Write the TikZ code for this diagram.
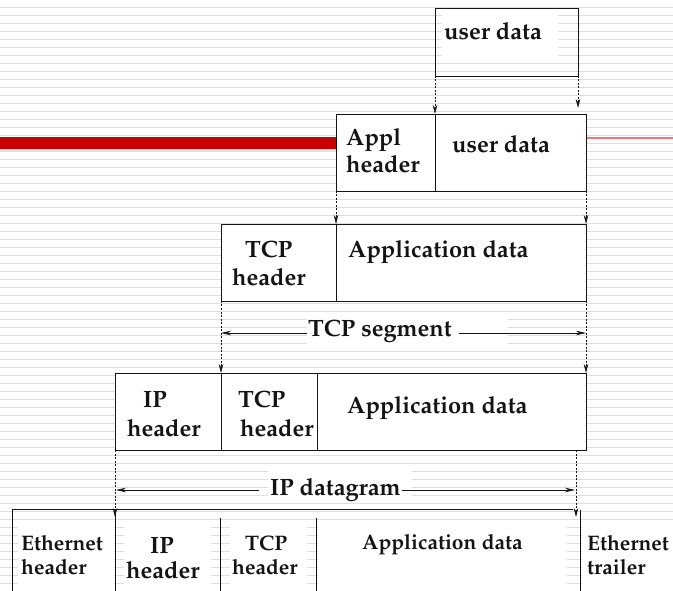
\documentclass[tikz,border=0pt]{standalone}
\usepackage[T1]{fontenc}
\renewcommand{\rmdefault}{ppl}
\usetikzlibrary{arrows.meta}
\definecolor{stripe}{RGB}{222,222,222}
\definecolor{barred}{RGB}{204,0,0}
\definecolor{thinred}{RGB}{232,122,122}
\definecolor{ink}{RGB}{20,20,20}
\begin{document}
\begin{tikzpicture}[x=1pt,y=-1pt,
  cell/.style={draw=ink, line width=0.9pt, fill=white, inner sep=0pt, outer sep=0pt, anchor=north west},
  opencell/.style={draw=ink, line width=0.9pt, inner sep=0pt, outer sep=0pt, anchor=north west},
  bigtxt/.style={font=\fontsize{23.6}{28}\selectfont\bfseries, inner sep=0pt, anchor=base west, text=ink},
  smalltxt/.style={font=\fontsize{21}{25}\selectfont\bfseries, inner sep=0pt, anchor=base west, text=ink},
  drop/.style={draw=ink, dash pattern=on 2pt off 1.5pt, line width=0.6pt, -{Stealth[length=9pt,width=4.5pt]}},
  span/.style={draw=ink, line width=0.7pt, -{Stealth[length=10pt,width=4.5pt]}},
  wall/.style={draw=ink, line width=0.9pt},
  textbg/.style={fill=white}]
\useasboundingbox (0,0) rectangle (673,591);
% background with stripes
\fill[white] (0,0) rectangle (673,591);
\foreach \k in {0,...,74} \draw[stripe, line width=1.5pt] (0,8*\k-0.5) -- (673,8*\k-0.5);
% red title bar
\fill[barred] (0,137.3) rectangle (337,149.3);
\draw[thinred, line width=1.6pt] (586,137.8) -- (673,137.8);
% white text backgrounds
\fill[textbg] (442,15) rectangle (558,63);
\fill[textbg] (307,312) rectangle (508,350);
\fill[textbg] (268,466) rectangle (412,498);
\fill[textbg] (18,527) rectangle (114,591);
\fill[textbg] (124,527) rectangle (211,591);
\fill[textbg] (230,527) rectangle (307,591);
\fill[textbg] (318,527) rectangle (567,591);
\fill[textbg] (582,527) rectangle (673,591);
% row 0
\node[opencell, minimum width=143pt, minimum height=68pt] (u0) at (435,8) {};
% row 1
\node[cell, minimum width=99pt, minimum height=77pt] (a1) at (336,114) {};
\node[cell, minimum width=151pt, minimum height=77pt] (u1) at (435,114) {};
% row 2
\node[cell, minimum width=115pt, minimum height=77pt] (th2) at (221,224) {};
\node[cell, minimum width=250pt, minimum height=77pt] (ad2) at (336,224) {};
% row 3
\node[cell, minimum width=106pt, minimum height=77pt] (ih3) at (115,373) {};
\node[cell, minimum width=96pt, minimum height=77pt] (tc3) at (221,373) {};
\node[cell, minimum width=269pt, minimum height=77pt] (ad3) at (317,373) {};
% bottom frame
\coordinate (fBL) at (12.7,593);
\coordinate (fTL) at (12.7,509.5);
\coordinate (fTR) at (573,509.5);
\draw[wall] (fBL) -- (fTL) -- (fTR);
\coordinate (v1t) at (115,509.5);  \coordinate (v1b) at (115,593);
\coordinate (v2t) at (220.7,518);  \coordinate (v2b) at (220.7,593);
\coordinate (v3t) at (316.3,518);  \coordinate (v3b) at (316.3,593);
\coordinate (v4t) at (580.7,509.5); \coordinate (v4b) at (580.7,593);
\draw[wall] (v1t) -- (v1b);
\draw[wall] (v2t) -- (v2b);
\draw[wall] (v3t) -- (v3b);
\draw[wall] (v4t) -- (v4b);
% drop arrows
\draw[drop] (u0.south west) -- (u1.north west);
\draw[drop, shorten >=6pt] (u0.south east) -- (u0.south east |- u1.north east);
\draw[drop] (a1.south west) -- (ad2.north west);
\draw[drop] (u1.south east) -- (ad2.north east);
\draw[drop] (th2.south west) -- (tc3.north west);
\draw[drop] (ad2.south east) -- (ad3.north east);
\coordinate (dgTop) at (576,450);
\coordinate (dgBot) at (576,517);
\coordinate (ethL) at (115,517);
\draw[drop] (ih3.south west) -- (ethL);
\draw[drop] (dgTop) -- (dgBot);
% texts row 0-3
\node[bigtxt] (t0) at (444,40) {user data};
\node[bigtxt] (t1a) at (346,146) {Appl};
\node[bigtxt] (t1b) at (346,173) {header};
\node[bigtxt] (t1c) at (452,153) {user data};
\node[bigtxt] (t2a) at (245,258) {TCP};
\node[bigtxt] (t2b) at (232,286) {header};
\node[bigtxt] (t2c) at (348,258) {Application data};
\node[bigtxt] (t3a) at (143,407) {IP};
\node[bigtxt] (t3b) at (127,436) {header};
\node[bigtxt] (t3c) at (238,407) {TCP};
\node[bigtxt] (t3d) at (240,436) {header};
\node[bigtxt] (t3e) at (347,413) {Application data};
% span labels
\node[bigtxt] (ts) at (308,336) {TCP segment};
\coordinate (segL) at (221,333);
\coordinate (segR) at (586,333);
\draw[span] ([xshift=-1pt]ts.west |- segL) -- (segL);
\draw[span] ([xshift=7pt]ts.east |- segR) -- (segR);
\node[bigtxt] (ipd) at (270,495) {IP datagram};
\coordinate (dgL) at (116,490);
\coordinate (dgR) at (575,490);
\draw[span] ([xshift=-11pt]ipd.west |- dgL) -- (dgL);
\draw[span] ([xshift=1pt]ipd.east |- dgR) -- (dgR);
% bottom row texts
\node[smalltxt] (b1a) at (21,550) {Ethernet};
\node[smalltxt] (b1b) at (21,574) {header};
\node[bigtxt] (b2a) at (150,553) {IP};
\node[bigtxt] (b2b) at (126,578) {header};
\node[smalltxt] (b3a) at (245,550) {TCP};
\node[smalltxt] (b3b) at (232,574) {header};
\node[smalltxt] (b4) at (362,549) {Application data};
\node[smalltxt] (b5a) at (587,550) {Ethernet};
\node[smalltxt] (b5b) at (587,574) {trailer};
\end{tikzpicture}
\end{document}
